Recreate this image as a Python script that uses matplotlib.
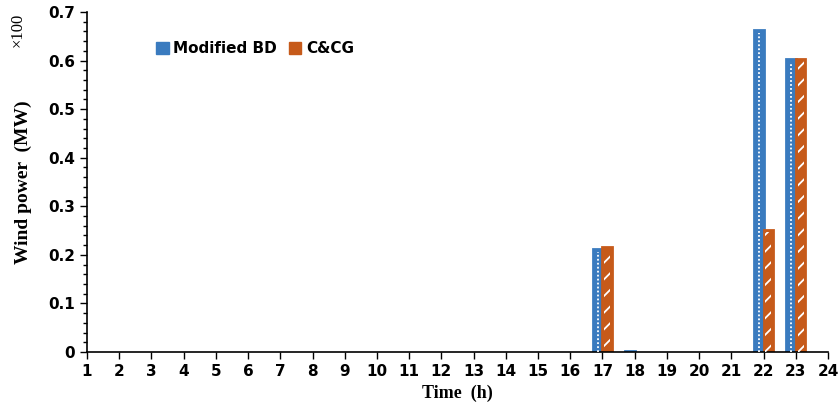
import matplotlib
matplotlib.use("Agg")
import matplotlib.pyplot as plt
import numpy as np
from matplotlib.patches import Patch

hours = list(range(1, 25))
modified_bd = [0]*16 + [0.212, 0.002, 0, 0, 0, 0.663, 0.603, 0]
ccg = [0]*16 + [0.217, 0, 0, 0, 0, 0.251, 0.603, 0]
series_names = ["Modified BD", "C&CG"]
yticks = [0, 0.1, 0.2, 0.3, 0.4, 0.5, 0.6, 0.7]
ytick_labels = ["0", "0.1", "0.2", "0.3", "0.4", "0.5", "0.6", "0.7"]
blue = "#3a7bbf"
orange = "#c65a1a"

plt.rcParams['hatch.linewidth'] = 1.3
fig = plt.figure(figsize=(8.4, 4.15), dpi=100)
ax = fig.add_axes([87/840, 1-352/415, (828-87)/840, (352-12)/415])

x = np.array(hours, dtype=float)
w = 0.3
# Modified BD
v = np.array(modified_bd)
m = v > 0
ax.bar(x[m]-w/2, v[m], width=w, color=blue, edgecolor=blue, linewidth=2.0, zorder=2)
ax.vlines(x[m]-w/2, 0, v[m]-0.006, colors='white', linestyles=(0, (1, 1.2)), linewidth=1.3, zorder=3)
# C&CG
v = np.array(ccg)
m = v > 0
ax.bar(x[m]+w/2, v[m], width=w, color=orange, edgecolor=orange, linewidth=2.0, zorder=2)
ax.bar(x[m]+w/2, v[m]-0.004, width=w*0.6, facecolor='none', edgecolor='white', hatch='//', linewidth=0, zorder=3)

ax.set_xlim(1, 24)
ax.set_ylim(0, 0.7)
ax.set_xticks(hours)
ax.set_xticklabels([str(h) for h in hours], fontsize=11, fontweight='bold', family='DejaVu Sans')
ax.set_yticks(yticks)
ax.set_yticklabels(ytick_labels, fontsize=11, fontweight='bold', family='DejaVu Sans')
ax.set_yticks(np.arange(0, 0.7001, 0.02), minor=True)
ax.tick_params(axis='both', which='major', direction='out', length=5, width=1, colors='black')
ax.tick_params(axis='y', which='minor', direction='out', length=3, width=1)
for s in ['top', 'right']:
    ax.spines[s].set_visible(False)
for s in ['left', 'bottom']:
    ax.spines[s].set_linewidth(1.2)

ax.set_xlabel("Time  (h)", fontsize=13, fontweight='bold', family='Liberation Serif', labelpad=4)
ax.set_ylabel("Wind power  (MW)", fontsize=14, fontweight='bold', family='Liberation Serif', labelpad=12)
fig.text(18/840, 1-30/415, "×100", rotation=90, fontsize=12, family='Liberation Serif', ha='center', va='center')

handles = [Patch(facecolor=blue, edgecolor=blue, hatch='..'), Patch(facecolor=orange, edgecolor=orange)]
leg = ax.legend(handles, series_names, loc='upper left', bbox_to_anchor=(0.075, 0.955), ncol=2, frameon=False,
                prop={'family': 'DejaVu Sans', 'weight': 'bold', 'size': 11},
                handlelength=0.8, handleheight=0.8, handletextpad=0.3, columnspacing=0.8)

fig.savefig("out.png", dpi=100)
